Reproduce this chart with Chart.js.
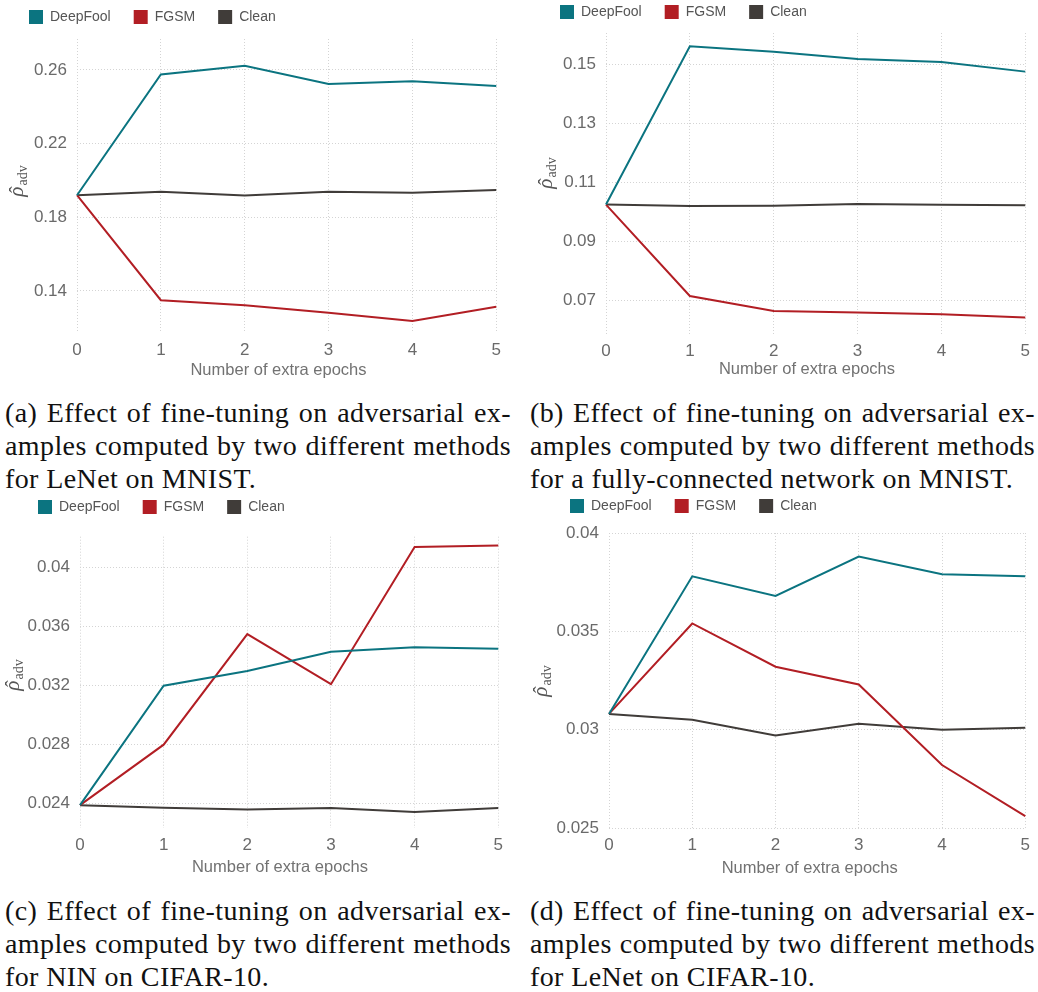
<!DOCTYPE html>
<html><head><meta charset="utf-8">
<script src="https://cdn.jsdelivr.net/npm/chart.js@4.4.1/dist/chart.umd.min.js"></script>
<style>
html,body{margin:0;padding:0;background:#fff;}
body{width:1038px;height:992px;overflow:hidden;position:relative;}
canvas{position:absolute;}
.cap{position:absolute;font-family:"Liberation Serif","Times New Roman",serif;font-size:28px;letter-spacing:0.4px;line-height:33px;color:#111;}
.cap div{white-space:nowrap;}
.cap div.j{text-align:justify;text-align-last:justify;}
</style></head><body>

<div class="cap" style="left:5px;top:396px;width:506px;">
  <div class="j">(a) Effect of fine-tuning on adversarial ex-</div>
  <div class="j">amples computed by two different methods</div>
  <div>for LeNet on MNIST.</div>
</div>
<div class="cap" style="left:530px;top:396px;width:505px;">
  <div class="j">(b) Effect of fine-tuning on adversarial ex-</div>
  <div class="j">amples computed by two different methods</div>
  <div>for a fully-connected network on MNIST.</div>
</div>
<div class="cap" style="left:5px;top:894px;width:506px;">
  <div class="j">(c) Effect of fine-tuning on adversarial ex-</div>
  <div class="j">amples computed by two different methods</div>
  <div>for NIN on CIFAR-10.</div>
</div>
<div class="cap" style="left:530px;top:894px;width:505px;">
  <div class="j">(d) Effect of fine-tuning on adversarial ex-</div>
  <div class="j">amples computed by two different methods</div>
  <div>for LeNet on CIFAR-10.</div>
</div>

<script>
// ---------- data ----------
const epochs = ['0', '1', '2', '3', '4', '5'];
const seriesNames = ['DeepFool', 'FGSM', 'Clean'];
const xAxisTitle = 'Number of extra epochs';

// (a) LeNet on MNIST
const lenetMnistDeepFool = [0.1920, 0.2575, 0.2623, 0.2524, 0.2539, 0.2513];
const lenetMnistFGSM     = [0.1920, 0.1350, 0.1322, 0.1282, 0.1237, 0.1315];
const lenetMnistClean    = [0.1920, 0.1939, 0.1919, 0.1939, 0.1934, 0.1948];
const lenetMnistTicks    = ['0.14', '0.18', '0.22', '0.26'];

// (b) fully-connected network on MNIST
const fcMnistDeepFool = [0.1024, 0.1561, 0.1542, 0.1518, 0.1508, 0.1475];
const fcMnistFGSM     = [0.1024, 0.0714, 0.0663, 0.0658, 0.0652, 0.0641];
const fcMnistClean    = [0.1024, 0.1019, 0.1020, 0.1026, 0.1023, 0.1022];
const fcMnistTicks    = ['0.07', '0.09', '0.11', '0.13', '0.15'];

// (c) NIN on CIFAR-10
const ninCifarDeepFool = [0.0239, 0.0320, 0.0330, 0.0343, 0.0346, 0.0345];
const ninCifarFGSM     = [0.0239, 0.0280, 0.0355, 0.0321, 0.0414, 0.0415];
const ninCifarClean    = [0.0239, 0.02373, 0.0236, 0.02371, 0.02344, 0.0237];
const ninCifarTicks    = ['0.024', '0.028', '0.032', '0.036', '0.04'];

// (d) LeNet on CIFAR-10
const lenetCifarDeepFool = [0.0308, 0.0378, 0.0368, 0.0388, 0.0379, 0.0378];
const lenetCifarFGSM     = [0.0308, 0.0354, 0.0332, 0.0323, 0.0282, 0.0256];
const lenetCifarClean    = [0.0308, 0.0305, 0.0297, 0.0303, 0.0300, 0.0301];
const lenetCifarTicks    = ['0.025', '0.03', '0.035', '0.04'];

// ---------- styling ----------
const TEAL = '#0b7480', RED = '#b21e24', DARK = '#403c39';
const GRID = '#d4d4d4', TICK = '#6a6a6a', LEG = '#555555';
const SANS = '"Liberation Sans", Arial, Helvetica, sans-serif';

const axisTitlesPlugin = {
  id: 'axisTitles',
  afterDraw(chart, args, o) {
    const ctx = chart.ctx;
    ctx.save();
    ctx.fillStyle = '#727272';
    ctx.font = '16.5px ' + SANS;
    ctx.textAlign = 'center';
    ctx.textBaseline = 'middle';
    ctx.fillText(o.xText, o.xPos[0], o.xPos[1]);
    // y title: rho with hat, subscript "adv"
    ctx.fillStyle = '#555555';
    ctx.translate(o.yPos[0], o.yPos[1]);
    ctx.rotate(-Math.PI / 2);
    ctx.textBaseline = 'alphabetic';
    const mainFont = 'italic 21px "Liberation Serif", "DejaVu Serif", serif';
    const hatFont = '20px "Liberation Serif", "DejaVu Serif", serif';
    const subFont = '14px "Liberation Serif", "DejaVu Serif", serif';
    ctx.font = mainFont;
    const w1 = ctx.measureText(o.yMain).width;
    ctx.font = subFont;
    const w2 = ctx.measureText(o.ySub).width;
    const x0 = -(w1 + w2 + 1) / 2;
    ctx.textAlign = 'left';
    ctx.font = mainFont;
    ctx.fillText(o.yMain, x0, 0);
    ctx.textAlign = 'center';
    ctx.font = hatFont;
    ctx.fillText(o.yHat, x0 + w1 / 2 + 2, 1);
    ctx.textAlign = 'left';
    ctx.font = subFont;
    ctx.fillText(o.ySub, x0 + w1 + 1, 4);
    ctx.restore();
  }
};

function makeChart(cfg) {
  const canvas = document.createElement('canvas');
  canvas.width = cfg.w; canvas.height = cfg.h;
  canvas.style.left = cfg.cx + 'px'; canvas.style.top = cfg.cy + 'px';
  canvas.style.width = cfg.w + 'px'; canvas.style.height = cfg.h + 'px';
  document.body.appendChild(canvas);
  const tickVals = cfg.ticks.map(Number);
  const colors = [TEAL, RED, DARK];
  const datasets = [cfg.deepfool, cfg.fgsm, cfg.clean].map((d, i) => ({
    label: seriesNames[i], data: d,
    borderColor: colors[i], backgroundColor: colors[i],
    borderWidth: 2, pointRadius: 0, tension: 0, fill: false
  }));
  new Chart(canvas, {
    type: 'line',
    data: { labels: epochs, datasets },
    options: {
      responsive: false, animation: false, events: [],
      layout: { padding: { left: cfg.padL, top: 0, right: cfg.padR, bottom: 0 } },
      plugins: {
        legend: {
          display: true, position: 'top', align: 'start',
          labels: {
            boxWidth: 14, boxHeight: 14, padding: 23, color: LEG,
            font: { family: SANS, size: 14 },
            generateLabels: (ch) => Chart.defaults.plugins.legend.labels.generateLabels(ch)
              .map(l => Object.assign(l, { lineWidth: 0, strokeStyle: 'rgba(0,0,0,0)' }))
          }
        },
        title: { display: true, text: '', weight: 1, padding: 0, font: { size: cfg.spacer, lineHeight: 1 } },
        tooltip: { enabled: false },
        axisTitles: {
          xText: xAxisTitle, xPos: [cfg.xTitle[0] - cfg.cx, cfg.xTitle[1] - cfg.cy],
          yMain: 'ρ', yHat: '\u02C6', ySub: 'adv', yPos: [cfg.yTitle[0] - cfg.cx, cfg.yTitle[1] - cfg.cy]
        }
      },
      scales: {
        x: {
          type: 'category', offset: false,
          grid: { color: GRID, lineWidth: 1, drawTicks: false },
          border: { display: false, dash: [1, 2] },
          ticks: { padding: 7, color: TICK, font: { family: SANS, size: 17 }, maxRotation: 0, autoSkip: false },
          afterFit: (s) => { s.height = 50; }
        },
        y: {
          type: 'linear', min: cfg.min, max: cfg.max,
          grid: { color: GRID, lineWidth: 1, drawTicks: false },
          border: { display: false, dash: [1, 2] },
          ticks: { padding: 10, color: TICK, font: { family: SANS, size: 17 },
                   callback: (v, i) => cfg.ticks[i] },
          afterBuildTicks: (s) => { s.ticks = tickVals.map(v => ({ value: v })); },
          afterFit: (s) => { s.width = cfg.yW; }
        }
      }
    },
    plugins: [axisTitlesPlugin]
  });
}

makeChart({ cx: 0, cy: -13, w: 508, h: 396, padL: 6, padR: 10, yW: 71, spacer: 5,
  min: 0.1172, max: 0.2768, ticks: lenetMnistTicks,
  deepfool: lenetMnistDeepFool, fgsm: lenetMnistFGSM, clean: lenetMnistClean,
  xTitle: [278.5, 370], yTitle: [23, 181] });

makeChart({ cx: 520, cy: -18, w: 517, h: 402, padL: 17, padR: 10, yW: 69, spacer: 4,
  min: 0.0585, max: 0.1606, ticks: fcMnistTicks,
  deepfool: fcMnistDeepFool, fgsm: fcMnistFGSM, clean: fcMnistClean,
  xTitle: [807, 369.3], yTitle: [552, 173] });

makeChart({ cx: 0, cy: 477, w: 510, h: 401, padL: 15, padR: 10, yW: 65, spacer: 12.7,
  min: 0.02235, max: 0.0421, ticks: ninCifarTicks,
  deepfool: ninCifarDeepFool, fgsm: ninCifarFGSM, clean: ninCifarClean,
  xTitle: [280, 867.7], yTitle: [19, 675] });

makeChart({ cx: 520, cy: 476, w: 517, h: 402, padL: 27, padR: 8, yW: 62, spacer: 10,
  min: 0.025, max: 0.04, ticks: lenetCifarTicks,
  deepfool: lenetCifarDeepFool, fgsm: lenetCifarFGSM, clean: lenetCifarClean,
  xTitle: [809.7, 868.3], yTitle: [547, 681] });
</script>
</body></html>
